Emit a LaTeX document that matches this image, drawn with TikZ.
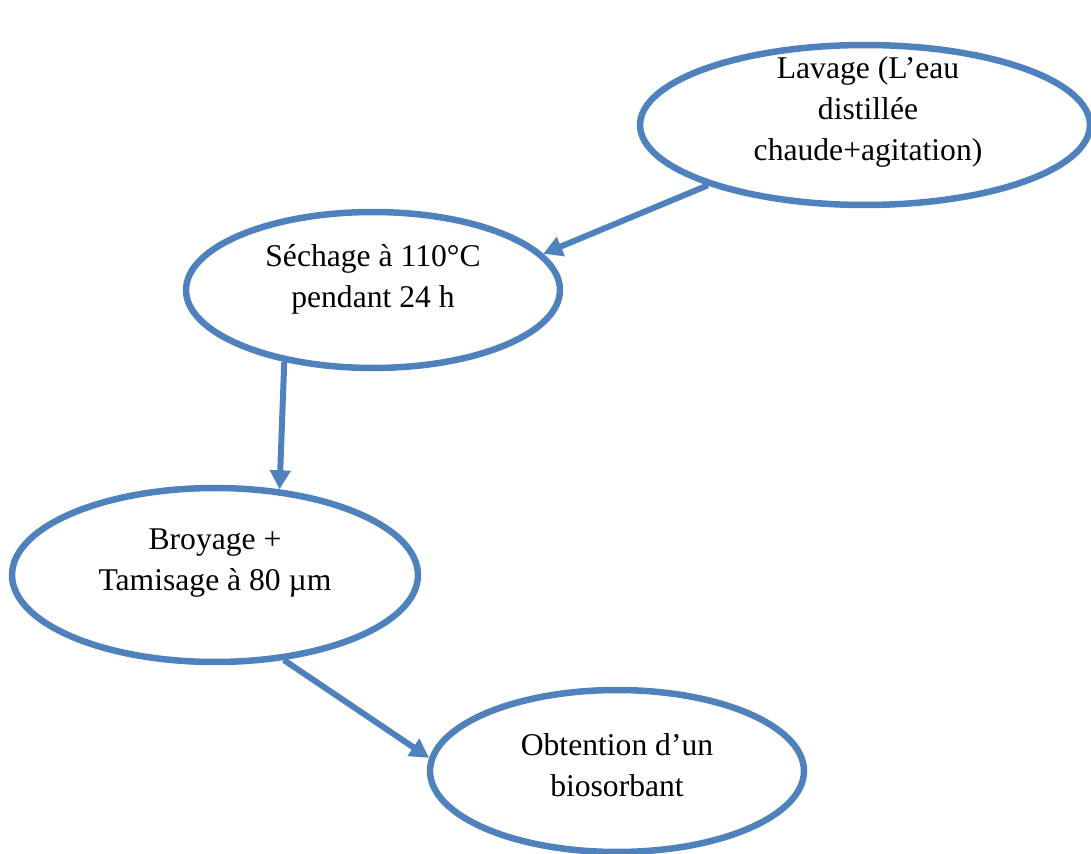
\documentclass[tikz,border=0pt]{standalone}
\usepackage{fontspec}
\setmainfont{Liberation Serif}
\usetikzlibrary{shapes.geometric,arrows.meta}
\definecolor{stageblue}{HTML}{4F81BD}
\tikzset{
  stage/.style={draw=stageblue, line width=0.13cm, ellipse, inner sep=0pt},
  stagetext/.style={align=center, font=\fontsize{18}{23.3}\selectfont},
  flow/.style={draw=stageblue, line width=0.12cm, -{Triangle[length=0.38cm,width=0.4cm]}}
}

\begin{document}
\begin{tikzpicture}[x=0.02cm, y=-0.02cm]
    \useasboundingbox (0,0) rectangle (1091,854);
    % ellipses
    \node[stage, minimum width=9cm, minimum height=3.2cm] (lavage) at (865,125) {};
    \node[stage, minimum width=7.48cm, minimum height=3.12cm] (sechage) at (373,290) {};
    \node[stage, minimum width=8.12cm, minimum height=3.48cm] (broyage) at (215,575) {};
    \node[stage, minimum width=7.48cm, minimum height=3.24cm] (obtention) at (617,771) {};
    % texts
    \node[stagetext] (lavagetext) at (868,112) {Lavage (L’eau\\distillée\\chaude+agitation)};
    \node[stagetext] (sechagetext) at (373,279) {Séchage à 110°C\\pendant 24 h};
    \node[stagetext] (broyagetext) at (215,563) {Broyage +\\Tamisage à 80 µm};
    \node[stagetext] (obtentiontext) at (617,765) {Obtention d’un\\biosorbant};
    % arrows
    \draw[flow] (lavage.201) -- (sechage.12);
    \draw[flow] (sechage.219) -- (broyage.53);
    \draw[flow] (broyage.309) -- (obtention.176);
\end{tikzpicture}
\end{document}
